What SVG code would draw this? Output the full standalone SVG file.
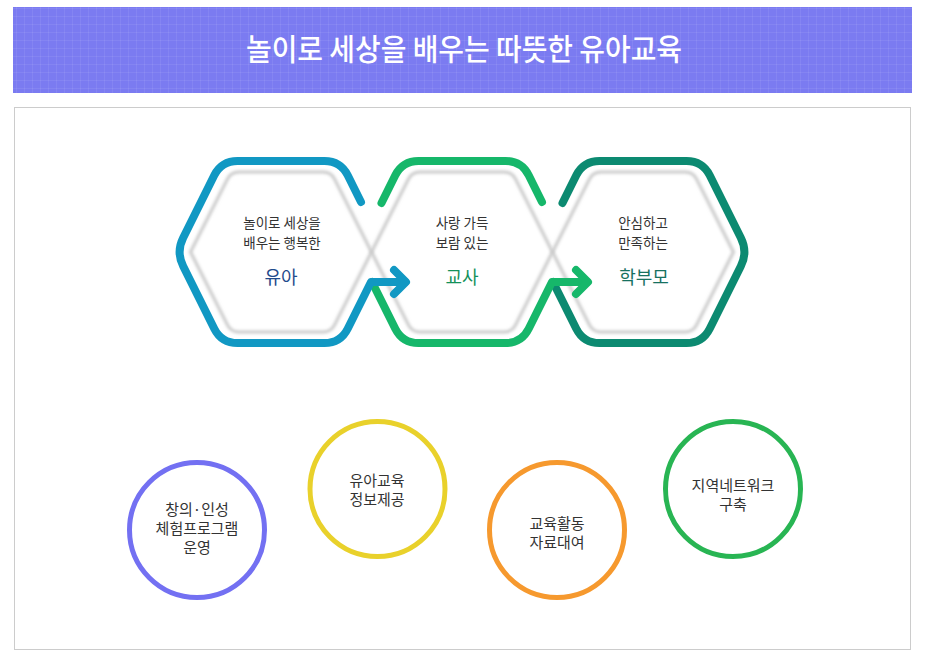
<svg xmlns="http://www.w3.org/2000/svg" xmlns:xlink="http://www.w3.org/1999/xlink" width="928" height="659" viewBox="0 0 928 659">
<style>
  .t { font-family: "Noto Sans CJK KR", "Noto Sans", sans-serif; text-anchor: middle; }
  .sub { font-size: 13.5px; fill: #333; }
  .lab { font-size: 18px; font-weight: 400; }
  .ctext { font-size: 15px; fill: #333; }
  .ol { fill: none; stroke-width: 8; stroke-linecap: round; stroke-linejoin: round; }
  .inner { fill: none; stroke: #c9c9c9; stroke-width: 3; filter: url(#soft); }
  .ring { fill: none; stroke-width: 5; }
</style>
<defs>
  <pattern id="grid" width="8" height="8" patternUnits="userSpaceOnUse">
    <path d="M0,0.5 H8 M0.5,0 V8" stroke="#ffffff" stroke-opacity="0.07" stroke-width="1" fill="none"/>
  </pattern>
  <filter id="soft" x="-10%" y="-10%" width="120%" height="120%">
    <feGaussianBlur stdDeviation="1.8"/>
  </filter>
  <path id="hexin" d="M-90.5,0 L-53.6,-72.9 Q-50,-80 -42,-80 L42,-80 Q50,-80 53.6,-72.9 L90.5,0 L53.6,72.9 Q50,80 42,80 L-42,80 Q-50,80 -53.6,72.9 Z"/>
</defs>
<rect width="928" height="659" fill="#ffffff"/>

<g id="header">
  <rect x="13" y="7" width="899" height="86" fill="#7b7bf1"/>
  <rect x="13" y="7" width="899" height="86" fill="url(#grid)"/>
  <text class="t" x="464" y="60" font-size="30" font-weight="500" fill="#ffffff" textLength="436" lengthAdjust="spacingAndGlyphs">놀이로 세상을 배우는 따뜻한 유아교육</text>
</g>

<g id="panel">
  <rect x="14.5" y="107.5" width="896" height="542" fill="#ffffff" stroke="#cccccc" stroke-width="1"/>
</g>

<g id="inner-hexagons">
  <use xlink:href="#hexin" href="#hexin" x="281" y="252" class="inner"/>
  <use xlink:href="#hexin" href="#hexin" x="462" y="252" class="inner"/>
  <use xlink:href="#hexin" href="#hexin" x="643" y="252" class="inner"/>
</g>

<g id="hex-parent">
  <path class="ol" stroke="#0c8a71" d="M562.5,203 L576.3,175.3 Q583.5,161 599.5,161 L686.5,161 Q702.5,161 709.7,175.3 L740.8,237.7 Q748,252 740.8,266.3 L709.7,328.7 Q702.5,343 686.5,343 L599.5,343 Q583.5,343 576.3,328.7 L553,282"/>
  <text class="t sub" x="643" y="228">안심하고</text>
  <text class="t sub" x="643" y="248">만족하는</text>
  <text class="t lab" x="644" y="284" fill="#17715f">학부모</text>
</g>

<g id="hex-teacher">
  <path class="ol" stroke="#16b76a" d="M381.5,203 L395.3,175.3 Q402.5,161 418.5,161 L505.5,161 Q521.5,161 528.7,175.3 L542,202"/>
  <path class="ol" stroke="#16b76a" d="M372,282 L395.3,328.7 Q402.5,343 418.5,343 L505.5,343 Q521.5,343 528.7,328.7 L552,282 L587,282"/>
  <text class="t sub" x="462" y="228">사랑 가득</text>
  <text class="t sub" x="462" y="248">보람 있는</text>
  <text class="t lab" x="462" y="284" fill="#14915a">교사</text>
</g>

<g id="hex-yua">
  <path class="ol" stroke="#1198c3" d="M361,202 L347.7,175.3 Q340.5,161 324.5,161 L237.5,161 Q221.5,161 214.3,175.3 L183.2,237.7 Q176,252 183.2,266.3 L214.3,328.7 Q221.5,343 237.5,343 L324.5,343 Q340.5,343 347.7,328.7 L371,282 L405,282"/>
  <text class="t sub" x="282" y="228">놀이로 세상을</text>
  <text class="t sub" x="282" y="248">배우는 행복한</text>
  <text class="t lab" x="281" y="284" fill="#1f4b8c">유아</text>
</g>

<g id="connectors">
  <path class="ol" stroke="#16b76a" d="M576,270 L588,282 L576,294"/>
  <path class="ol" stroke="#1198c3" d="M394,270 L406,282 L394,294"/>
</g>

<g id="circle-program">
  <circle class="ring" cx="197" cy="530" r="67.5" stroke="#7370f2"/>
  <text class="t ctext" x="197" y="515">창의·인성</text>
  <text class="t ctext" x="197" y="534">체험프로그램</text>
  <text class="t ctext" x="197" y="553">운영</text>
</g>

<g id="circle-info">
  <circle class="ring" cx="377.5" cy="489" r="67.5" stroke="#e9d12b"/>
  <text class="t ctext" x="377" y="486">유아교육</text>
  <text class="t ctext" x="377" y="505">정보제공</text>
</g>

<g id="circle-lending">
  <circle class="ring" cx="557" cy="530" r="67.5" stroke="#f6992e"/>
  <text class="t ctext" x="557" y="529">교육활동</text>
  <text class="t ctext" x="557" y="548">자료대여</text>
</g>

<g id="circle-network">
  <circle class="ring" cx="733" cy="489" r="67.5" stroke="#28b553"/>
  <text class="t ctext" x="733" y="491">지역네트워크</text>
  <text class="t ctext" x="733" y="510">구축</text>
</g>
</svg>
